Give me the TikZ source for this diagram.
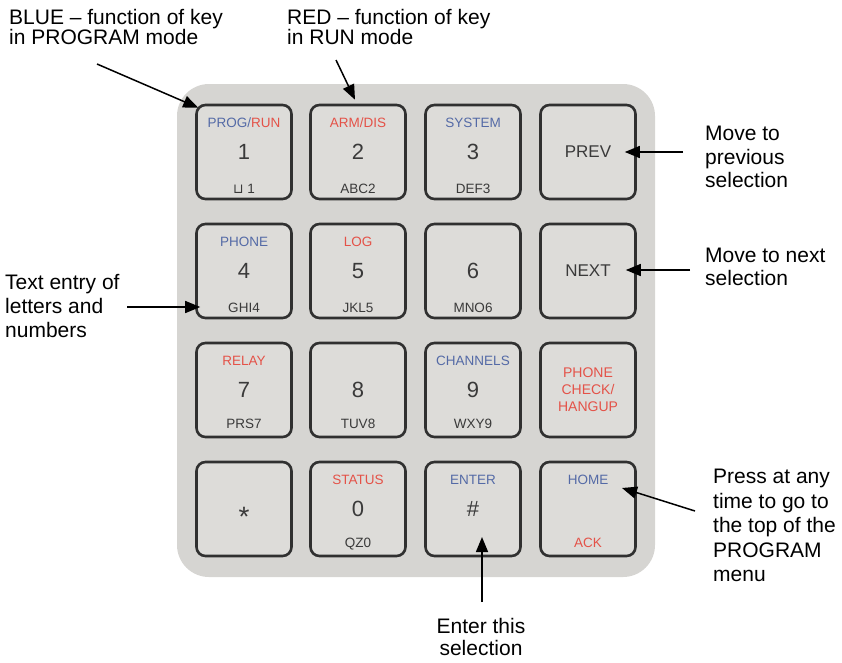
\documentclass[tikz,border=0pt]{standalone}
\usepackage{fontspec}
\setmainfont{Liberation Sans}
\newfontfamily\symfont{DejaVu Sans}
\usetikzlibrary{arrows.meta}
\usetikzlibrary{calc}

\definecolor{progblue}{RGB}{84,106,166}
\definecolor{runred}{RGB}{228,82,72}
\definecolor{keyink}{RGB}{58,58,58}
\definecolor{keyedge}{RGB}{48,48,48}
\definecolor{padgray}{RGB}{214,213,210}
\definecolor{keygray}{RGB}{221,220,217}

\tikzset{
  key/.style={draw=keyedge, fill=keygray, line width=2.6pt,
    rounded corners=9pt, minimum width=95pt, minimum height=94pt,
    text=keyink, font=\fontsize{22}{24}\selectfont},
  toplab/.style={anchor=base, inner sep=0pt, font=\fontsize{13.5}{15}\selectfont},
  botlab/.style={anchor=base, inner sep=0pt, text=keyink, font=\fontsize{13.5}{15}\selectfont},
  note/.style={anchor=north west, inner sep=0pt, align=left, font=\fontsize{21}{23.5}\selectfont},
  pointer/.style={-{Triangle[length=15pt,width=12pt]}, line width=1.5pt}
}

\begin{document}
\begin{tikzpicture}[x=1pt, y=-1pt]
\useasboundingbox (0,0) rectangle (842,662);

% rubber pad
\fill[padgray, rounded corners=32pt] (177,84) rectangle (655,577);

% first row
\node[key] (k1) at (244,152) {1};
\node[toplab] (k1a) at (244,127) {\textcolor{progblue}{PROG/}\textcolor{runred}{RUN}};
\node[botlab] (k1b) at (244,193) {{\symfont ⊔} 1};
\node[key] (k2) at (358,152) {2};
\node[toplab, text=runred] (k2a) at (358,127) {ARM/DIS};
\node[botlab] (k2b) at (358,193) {ABC2};
\node[key] (k3) at (473,152) {3};
\node[toplab, text=progblue] (k3a) at (473,127) {SYSTEM};
\node[botlab] (k3b) at (473,193) {DEF3};
\node[key, font=\fontsize{17}{19}\selectfont] (k4) at (588,152) {PREV};

% second row
\node[key] (k5) at (244,271) {4};
\node[toplab, text=progblue] (k5a) at (244,246) {PHONE};
\node[botlab] (k5b) at (244,312) {GHI4};
\node[key] (k6) at (358,271) {5};
\node[toplab, text=runred] (k6a) at (358,246) {LOG};
\node[botlab] (k6b) at (358,312) {JKL5};
\node[key] (k7) at (473,271) {6};
\node[botlab] (k7b) at (473,312) {MNO6};
\node[key, font=\fontsize{17}{19}\selectfont] (k8) at (588,271) {NEXT};

% third row
\node[key] (k9) at (244,390) {7};
\node[toplab, text=runred] (k9a) at (244,365) {RELAY};
\node[botlab] (k9b) at (244,428) {PRS7};
\node[key] (k10) at (358,390) {8};
\node[botlab] (k10b) at (358,428) {TUV8};
\node[key] (k11) at (473,390) {9};
\node[toplab, text=progblue] (k11a) at (473,365) {CHANNELS};
\node[botlab] (k11b) at (473,428) {WXY9};
\node[key, text=runred, align=center,
   font=\fontsize{14}{17}\selectfont] (k12) at (588,390) {PHONE\\CHECK/\\HANGUP};

% fourth row
\node[key] (k13) at (244,509) {};
\node[anchor=base, inner sep=0pt, text=keyink,
   font=\fontsize{28}{30}\selectfont] (star) at (244,526) {*};
\node[key] (k14) at (358,509) {0};
\node[toplab, text=runred] (k14a) at (358,484) {STATUS};
\node[botlab] (k14b) at (358,547) {QZ0};
\node[key] (k15) at (473,509) {\#};
\node[toplab, text=progblue] (k15a) at (473,484) {ENTER};
\node[key] (k16) at (588,509) {};
\node[toplab, text=progblue] (k16a) at (588,484) {HOME};
\node[toplab, text=runred] (k16b) at (588,547) {ACK};

% notes round the pad
\node[note, font=\fontsize{21}{20}\selectfont] (blue) at (9,9)
  {BLUE -- function of key\\in PROGRAM mode};
\node[note, font=\fontsize{21}{20}\selectfont] (red) at (287,9)
  {RED -- function of key\\in RUN mode};
\node[note] (prev) at (705,126) {Move to\\previous\\selection};
\node[note, font=\fontsize{21}{22.5}\selectfont] (next) at (705,248)
  {Move to next\\selection};
\node[note, font=\fontsize{21}{24}\selectfont] (entry) at (5,274)
  {Text entry of\\letters and\\numbers};
\node[note, font=\fontsize{21}{24.5}\selectfont] (home) at (713,469)
  {Press at any\\time to go to\\the top of the\\PROGRAM\\menu};
\node[note, anchor=north, align=center, font=\fontsize{21}{22.5}\selectfont] (enter)
  at (481,618) {Enter this\\selection};

% arrow tails
\coordinate (t1) at (97,64);
\coordinate (t2) at (336,60);
\coordinate (t3) at (683,152);
\coordinate (t4) at (690,270);
\coordinate (t5) at (127,307);
\coordinate (t6) at (695,511);
\coordinate (t7) at (482,602);

\draw[pointer] (t1) -- ($(k1.north west)+(3,4)$);
\draw[pointer] (t2) -- ($(k2.north)+(-3,-4)$);
\draw[pointer] (t3) -- ($(k4.east)+(-12,0)$);
\draw[pointer] (t4) -- ($(k8.east)+(-11,-1)$);
\draw[pointer] (t5) -- ($(k5.west)+(5,36)$);
\draw[pointer] (t6) -- ($(k16.center)+(34,-21)$);
\draw[pointer] (t7) -- ($(k15.center)+(9,28)$);
\end{tikzpicture}
\end{document}
